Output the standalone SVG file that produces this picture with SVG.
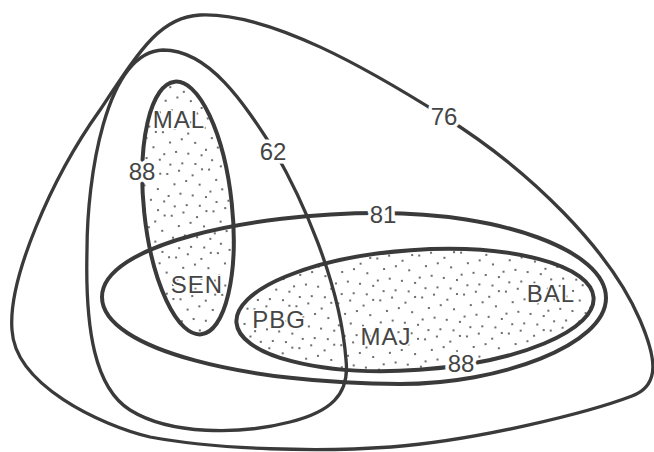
<svg xmlns="http://www.w3.org/2000/svg" width="654" height="452" viewBox="0 0 654 452">
<style>
.ln{fill:none;stroke:#3a3a3a;stroke-linejoin:round}
.thin{stroke-width:3.3}
.thick{stroke-width:4}
.lbl{font-family:"Liberation Sans",Arial,sans-serif;font-size:24px;fill:#454545;text-anchor:middle;stroke:#fff;stroke-width:7;paint-order:stroke;stroke-linejoin:round}
.in{stroke-width:3;letter-spacing:1px}
</style>
<defs>
<pattern id="dots" width="42" height="42" patternUnits="userSpaceOnUse">
<g fill="#4a4a4a">
<circle cx="3" cy="4" r="1.1"/><circle cx="15" cy="2" r="1.1"/><circle cx="28" cy="8" r="1.1"/><circle cx="38" cy="3" r="1.1"/>
<circle cx="9" cy="15" r="1.1"/><circle cx="21" cy="13" r="1.1"/><circle cx="34" cy="18" r="1.1"/><circle cx="2" cy="26" r="1.1"/>
<circle cx="14" cy="25" r="1.1"/><circle cx="26" cy="28" r="1.1"/><circle cx="39" cy="31" r="1.1"/><circle cx="7" cy="37" r="1.1"/>
<circle cx="19" cy="37" r="1.1"/><circle cx="32" cy="39" r="1.1"/>
</g>
</pattern>
</defs>
<rect width="654" height="452" fill="#fff"/>
<g id="fills">
<ellipse cx="188" cy="208" rx="44" ry="127" transform="rotate(-6 188 208)" fill="url(#dots)"/>
<ellipse cx="415" cy="310" rx="179" ry="60" transform="rotate(-4 415 310)" fill="url(#dots)"/>
</g>
<g id="curve-76">
<path class="ln thin" d="M200,15 C270,12 370,70 443,116 C530,170 610,250 640,320 C655,355 662,385 632,396 C590,412 480,440 391,447 C320,452 220,450 150,437 C100,425 15,385 12,330 C8,280 50,180 100,110 C140,50 160,17 200,15 Z"/>
</g>
<g id="curve-62">
<path class="ln thin" d="M163,50 C210,50 245,105 274,150 C300,195 340,280 346,360 C350,395 330,412 290,422 C240,435 170,435 130,410 C95,388 85,330 87,250 C87,180 105,52 163,50 Z"/>
</g>
<g id="ellipse-81">
<path class="ln thick" d="M102,297 C102,245 250,213 380,213 C500,213 606,250 606,298 C606,345 500,384 400,384 C250,384 102,350 102,297 Z"/>
</g>
<g id="ellipse-MAL-SEN">
<ellipse class="ln thick" cx="188" cy="208" rx="44" ry="127" transform="rotate(-6 188 208)"/>
</g>
<g id="ellipse-PBG-BAL">
<ellipse class="ln thick" cx="415" cy="310" rx="179" ry="60" transform="rotate(-4 415 310)"/>
</g>
<g id="labels">
<text class="lbl" x="444" y="125">76</text>
<text class="lbl" x="273" y="160">62</text>
<text class="lbl" x="142" y="180">88</text>
<text class="lbl" x="383" y="223">81</text>
<text class="lbl" x="461" y="372">88</text>
<text class="lbl in" x="179" y="128">MAL</text>
<text class="lbl in" x="197" y="293">SEN</text>
<text class="lbl in" x="279" y="328">PBG</text>
<text class="lbl in" x="386" y="345">MAJ</text>
<text class="lbl in" x="551" y="302">BAL</text>
</g>
</svg>
